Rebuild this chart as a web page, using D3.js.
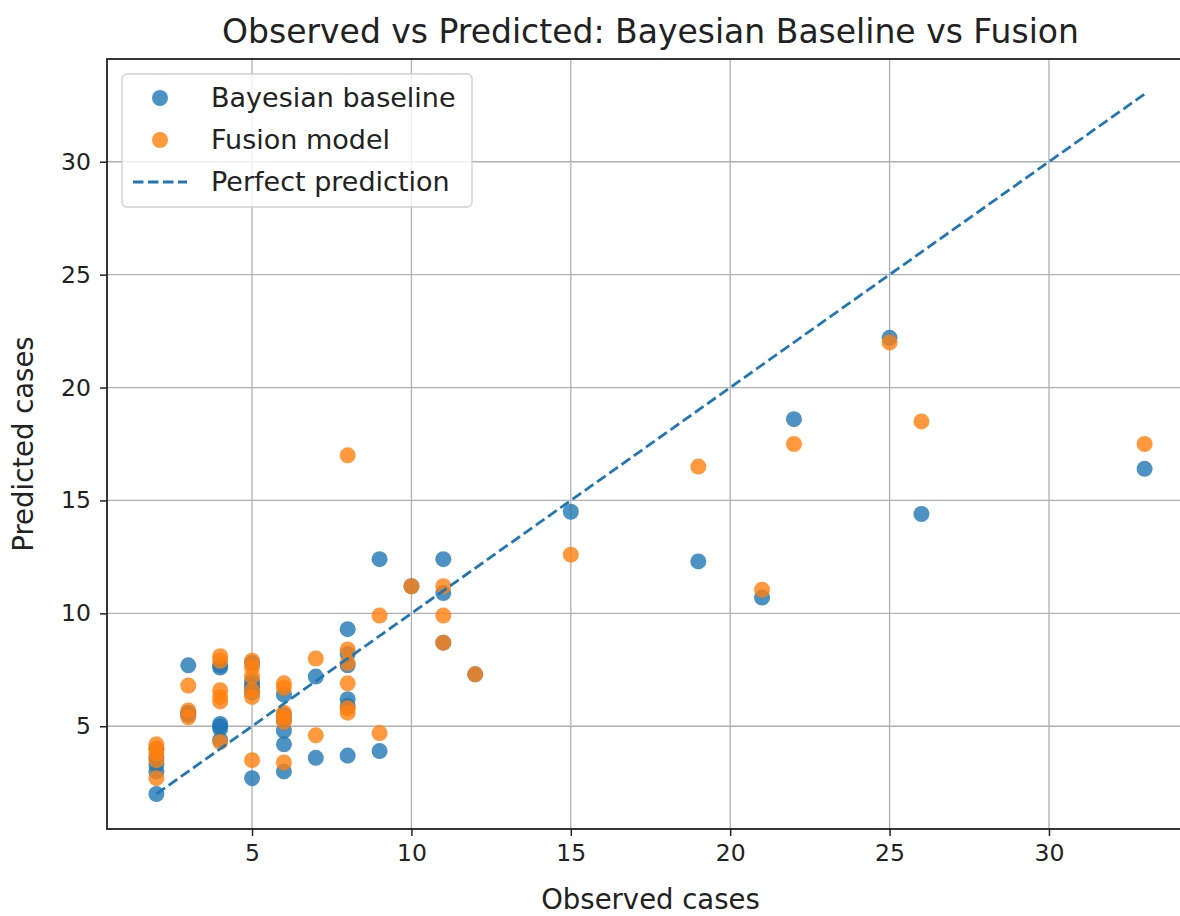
<!DOCTYPE html>
<html>
<head>
<meta charset="utf-8">
<script src="https://cdn.jsdelivr.net/npm/d3@7"></script>
<style>
  body { margin: 0; background: #fff; }
  svg { font-family: "DejaVu Sans", sans-serif; }
</style>
</head>
<body>
<div id="chart"></div>
<script>
// observed cases and the two models' predictions
var observed = [2, 2, 2, 2, 2,
                3, 3, 3,
                4, 4, 4, 4, 4, 4,
                5, 5, 5, 5, 5, 5,
                6, 6, 6, 6, 6, 6,
                7, 7,
                8, 8, 8, 8, 8, 8,
                9, 9,
                10,
                11, 11, 11,
                12, 15, 19, 21, 22, 25, 26, 33];

var baseline = [2.0, 3.0, 3.3, 3.6, 4.0,
                7.7, 5.5, 5.6,
                7.6, 7.7, 5.1, 4.9, 5.0, 4.4,
                7.8, 7.0, 6.8, 6.7, 6.5, 2.7,
                6.4, 5.5, 5.3, 4.8, 4.2, 3.0,
                7.2, 3.6,
                9.3, 8.2, 7.7, 6.2, 5.9, 3.7,
                12.4, 3.9,
                11.2,
                12.4, 10.9, 8.7,
                7.3, 14.5, 12.3, 10.7, 18.6, 22.2, 14.4, 16.4];

var fusion = [2.7, 3.5, 3.8, 4.0, 4.2,
              6.8, 5.7, 5.4,
              8.1, 7.9, 6.6, 6.3, 6.1, 4.3,
              7.9, 7.6, 7.2, 6.6, 6.3, 3.5,
              6.9, 6.7, 5.6, 5.4, 5.2, 3.4,
              8.0, 4.6,
              17.0, 8.4, 7.8, 6.9, 5.8, 5.6,
              9.9, 4.7,
              11.2,
              11.2, 9.9, 8.7,
              7.3, 12.6, 16.5, 11.05, 17.5, 22.0, 18.5, 17.5];

var xTicks = [5, 10, 15, 20, 25, 30];
var yTicks = [5, 10, 15, 20, 25, 30];
var seriesNames = ["Bayesian baseline", "Fusion model", "Perfect prediction"];

var width = 1180, height = 916;
var margin = {left: 107, top: 59, right: 1194, bottom: 829};
var blue = "#1f77b4", orange = "#ff7f0e";

var svg = d3.select("#chart").append("svg")
  .attr("width", width)
  .attr("height", height);

// matplotlib-like 5% margins around the data
var lo = d3.min(observed.concat(baseline, fusion));
var hi = d3.max(observed.concat(baseline, fusion));
var xPad = (d3.max(observed) - d3.min(observed)) * 0.05;
var yPad = (hi - lo) * 0.05;

var x = d3.scaleLinear()
  .domain([d3.min(observed) - xPad, d3.max(observed) + xPad])
  .range([margin.left, margin.right]);
var y = d3.scaleLinear()
  .domain([lo - yPad, hi + yPad])
  .range([margin.bottom, margin.top]);

// grid
svg.append("g").selectAll("line.gx")
  .data(xTicks).enter().append("line")
  .attr("x1", function(d){ return x(d); })
  .attr("x2", function(d){ return x(d); })
  .attr("y1", margin.top).attr("y2", margin.bottom)
  .attr("stroke", "#b0b0b0").attr("stroke-width", 1.3);
svg.append("g").selectAll("line.gy")
  .data(yTicks).enter().append("line")
  .attr("y1", function(d){ return y(d); })
  .attr("y2", function(d){ return y(d); })
  .attr("x1", margin.left).attr("x2", margin.right)
  .attr("stroke", "#b0b0b0").attr("stroke-width", 1.3);

var plot = svg.append("g");

// points: baseline first, fusion on top
plot.selectAll("circle.b")
  .data(observed).enter().append("circle")
  .attr("cx", function(d){ return x(d); })
  .attr("cy", function(d, i){ return y(baseline[i]); })
  .attr("r", 8)
  .attr("fill", blue).attr("fill-opacity", 0.8);

plot.selectAll("circle.f")
  .data(observed).enter().append("circle")
  .attr("cx", function(d){ return x(d); })
  .attr("cy", function(d, i){ return y(fusion[i]); })
  .attr("r", 8)
  .attr("fill", orange).attr("fill-opacity", 0.8);

// perfect prediction line
var diag = [d3.min(observed), d3.max(observed)];
plot.append("line")
  .attr("x1", x(diag[0])).attr("y1", y(diag[0]))
  .attr("x2", x(diag[1])).attr("y2", y(diag[1]))
  .attr("stroke", blue).attr("stroke-width", 2.8)
  .attr("stroke-dasharray", "10.5,4.5");

// axes
var xAxis = svg.append("g")
  .attr("transform", "translate(0," + margin.bottom + ")")
  .call(d3.axisBottom(x).tickValues(xTicks).tickSize(7).tickPadding(8));
var yAxis = svg.append("g")
  .attr("transform", "translate(" + margin.left + ",0)")
  .call(d3.axisLeft(y).tickValues(yTicks).tickSize(7).tickPadding(9));

[xAxis, yAxis].forEach(function(a){
  a.selectAll("text").attr("font-size", 23.5).attr("fill", "#222")
    .attr("font-family", "DejaVu Sans, sans-serif");
  a.selectAll(".tick line").attr("stroke", "#222").attr("stroke-width", 1.5);
  a.select(".domain").remove();
});

// spines (right one falls outside the picture)
svg.append("rect")
  .attr("x", margin.left).attr("y", margin.top)
  .attr("width", margin.right - margin.left)
  .attr("height", margin.bottom - margin.top)
  .attr("fill", "none").attr("stroke", "#222").attr("stroke-width", 1.8);

// titles
svg.append("text")
  .attr("x", (margin.left + margin.right) / 2).attr("y", 43)
  .attr("text-anchor", "middle").attr("font-size", 33).attr("fill", "#222")
  .text("Observed vs Predicted: Bayesian Baseline vs Fusion");
svg.append("text")
  .attr("x", (margin.left + margin.right) / 2).attr("y", 909)
  .attr("text-anchor", "middle").attr("font-size", 27.5).attr("fill", "#222")
  .text("Observed cases");
svg.append("text")
  .attr("transform", "translate(33," + ((margin.top + margin.bottom) / 2) + ") rotate(-90)")
  .attr("text-anchor", "middle").attr("font-size", 27.5).attr("fill", "#222")
  .text("Predicted cases");

// legend
var lg = svg.append("g").attr("transform", "translate(122,74)");
lg.append("rect")
  .attr("width", 350).attr("height", 133).attr("rx", 5)
  .attr("fill", "#fff").attr("fill-opacity", 0.8)
  .attr("stroke", "#d0d0d0").attr("stroke-width", 1.3);

var rows = lg.selectAll("g.row")
  .data(seriesNames).enter().append("g")
  .attr("transform", function(d, i){ return "translate(0," + (24 + i * 42) + ")"; });

rows.each(function(d, i){
  var g = d3.select(this);
  if (i < 2) {
    g.append("circle").attr("cx", 38).attr("cy", 0).attr("r", 8)
      .attr("fill", i === 0 ? blue : orange).attr("fill-opacity", 0.8);
  } else {
    g.append("line").attr("x1", 11).attr("x2", 65).attr("y1", 0).attr("y2", 0)
      .attr("stroke", blue).attr("stroke-width", 2.8)
      .attr("stroke-dasharray", "10.5,4.5");
  }
  g.append("text").attr("x", 89).attr("y", 9)
    .attr("font-size", 27).attr("fill", "#222").text(d);
});
</script>
</body>
</html>
